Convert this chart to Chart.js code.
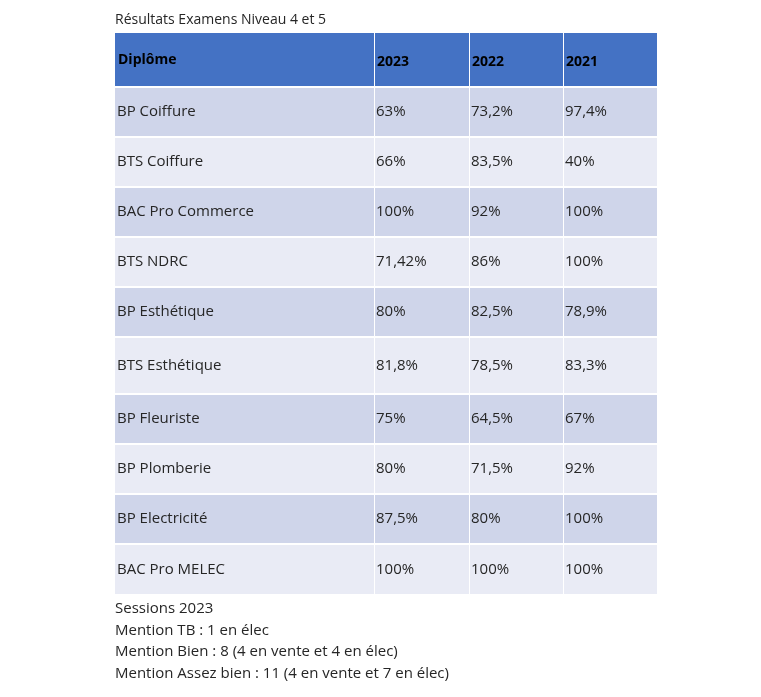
<!DOCTYPE html>
<html><head><meta charset="utf-8">
<script src="https://cdn.jsdelivr.net/npm/chart.js@4"></script>
<style>html,body{margin:0;padding:0;background:#fff}#c{display:block}</style>
</head><body>
<div style="width:761px;height:697px"><canvas id="c"></canvas></div>
<script>
const title = "Résultats Examens Niveau 4 et 5";
const headers = ["Diplôme", "2023", "2022", "2021"];
const diplomes = ["BP Coiffure","BTS Coiffure","BAC Pro Commerce","BTS NDRC","BP Esthétique","BTS Esthétique","BP Fleuriste","BP Plomberie","BP Electricité","BAC Pro MELEC"];
const res2023 = ["63%","66%","100%","71,42%","80%","81,8%","75%","80%","87,5%","100%"];
const res2022 = ["73,2%","83,5%","92%","86%","82,5%","78,5%","64,5%","71,5%","80%","100%"];
const res2021 = ["97,4%","40%","100%","100%","78,9%","83,3%","67%","92%","100%","100%"];
const notes = ["Sessions 2023","Mention TB : 1 en élec","Mention Bien : 8 (4 en vente et 4 en élec)","Mention Assez bien : 11 (4 en vente et 7 en élec)"];

// layout (pixel coordinates on the scales)
const colEdges = [115, 374, 469, 563, 657];
const headerTop = 33, headerBottom = 86;
const rowEdges = [88,138,188,238,288,338,395,445,495,545,596];
const FONT = "'Open Sans', Lato, sans-serif";

const tablePlugin = {
  id: 'table',
  afterDraw(chart) {
    const ctx = chart.ctx, xs = chart.scales.x, ys = chart.scales.y;
    const X = v => xs.getPixelForValue(v), Y = v => ys.getPixelForValue(v);
    ctx.save();
    ctx.fillStyle = '#262626';
    ctx.font = `14px ${FONT}`;
    ctx.textBaseline = 'middle';
    ctx.fillText(title, X(115), Y(20));
    // header
    ctx.fillStyle = '#4472C4';
    ctx.fillRect(X(colEdges[0]), Y(headerTop), X(colEdges[4]) - X(colEdges[0]), Y(headerBottom) - Y(headerTop));
    ctx.strokeStyle = '#fff'; ctx.lineWidth = 1;
    for (let c = 1; c < 4; c++) { ctx.beginPath(); ctx.moveTo(X(colEdges[c]) + 0.5, Y(headerTop)); ctx.lineTo(X(colEdges[c]) + 0.5, Y(rowEdges[10])); ctx.stroke(); }
    ctx.fillStyle = '#000';
    ctx.font = `bold 14px ${FONT}`;
    headers.forEach((h, c) => ctx.fillText(h, X(colEdges[c]) + 3, Y(c === 0 ? 60 : 62)));
    // rows
    const cols = [diplomes, res2023, res2022, res2021];
    for (let r = 0; r < diplomes.length; r++) {
      const y0 = rowEdges[r], y1 = rowEdges[r + 1] - 2;
      ctx.fillStyle = r % 2 === 0 ? '#CFD5EA' : '#E9EBF5';
      for (let c = 0; c < 4; c++) {
        const x0 = colEdges[c] + (c ? 1 : 0), x1 = colEdges[c + 1];
        ctx.fillRect(X(x0), Y(y0), X(x1) - X(x0), Y(y1) - Y(y0));
      }
    }
    ctx.font = `15px ${FONT}`;
    ctx.fillStyle = '#262626';
    for (let r = 0; r < diplomes.length; r++) {
      const yc = (rowEdges[r] + rowEdges[r + 1] - 2) / 2;
      for (let c = 0; c < 4; c++) ctx.fillText(cols[c][r], X(colEdges[c]) + 2, Y(yc));
    }
    notes.forEach((n, i) => ctx.fillText(n, X(115), Y(609 + i * 21.5)));
    ctx.restore();
  }
};

new Chart(document.getElementById('c'), {
  type: 'scatter',
  data: { datasets: [{ data: [] }] },
  options: {
    responsive: true, maintainAspectRatio: false, animation: false,
    layout: { padding: 0 },
    plugins: { legend: { display: false }, tooltip: { enabled: false } },
    scales: {
      x: { type: 'linear', min: 0, max: 761, display: false },
      y: { type: 'linear', min: 0, max: 697, reverse: true, display: false }
    }
  },
  plugins: [tablePlugin]
});
</script>
</body></html>
